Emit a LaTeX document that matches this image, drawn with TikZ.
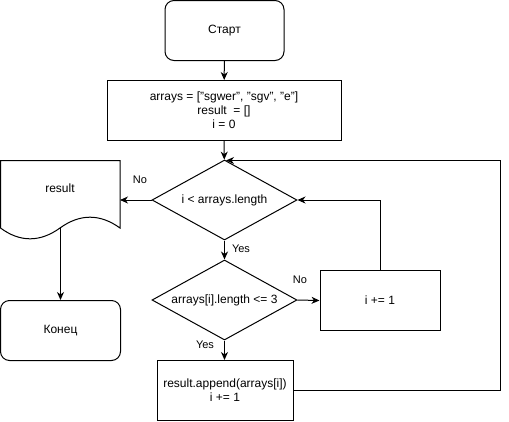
\documentclass[tikz,border=0pt]{standalone}
\usepackage{fontspec}
\setmainfont{Liberation Sans}
\usetikzlibrary{shapes.geometric,arrows.meta}
\begin{document}
\begin{tikzpicture}[x=1pt,y=-1pt,
  every node/.style={font=\fontsize{12}{14}\selectfont, text=black},
  term/.style={draw, line width=1pt, rounded corners=9pt, minimum width=119pt, minimum height=60pt, inner sep=0pt},
  proc/.style={draw, line width=1pt, minimum height=60pt, inner sep=0pt, align=center},
  dec/.style={draw, line width=1pt, diamond, shape aspect=1.8125, minimum width=145pt, minimum height=80pt, inner sep=0pt},
  arr/.style={line width=1pt, -{Stealth[length=8pt,width=7pt,inset=2.5pt]}},
  lbl/.style={font=\fontsize{11}{13}\selectfont, inner sep=0pt}]
\useasboundingbox (0,0) rectangle (509,421);
\node[term] (start) at (224.5,30.5) {Старт};
\node[proc, minimum width=234pt] (init) at (224,110.5) {arrays = ["sgwer", "sgv", "e"]\\result\ \ = []\\i = 0};
\node[dec] (d1) at (224.5,200) {i < arrays.length};
\node[dec] (d2) at (224.5,300) {arrays[i].length <= 3};
\node[proc, minimum width=120pt] (inc) at (380,300.5) {i += 1};
\node[proc, minimum width=136pt] (app) at (225,390.5) {result.append(arrays[i])\\i += 1};
\node[term, minimum width=120pt] (fin) at (60.5,330.5) {Конец};
% document shape
\draw[line width=1pt] (0.5,160.5) -- (120,160.5) -- (120,228)
  .. controls (100,213.6) and (80,213.6) .. (60,228)
  .. controls (40,242.4) and (20,242.4) .. (0.5,228) -- cycle;
\node (res) at (60,188) {result};
\coordinate (docb) at (60.5,228);
% connectors
\draw[arr] (start) -- (init);
\draw[arr] (init) -- (d1);
\draw[arr] (d1.west) -- (120,200);
\node[lbl] (no1) at (140,180) {No};
\draw[arr] (docb) -- (fin.north);
\draw[arr] (d1.south) -- (d2.north);
\node[lbl] (yes1) at (241,249) {Yes};
\draw[arr] (d2.east) -- (inc.west);
\node[lbl] (no2) at (300,280) {No};
\draw[arr] (inc.north) |- (d1.east);
\draw[arr] (d2.south) -- (d2.south |- app.north);
\node[lbl] (yes2) at (205,345) {Yes};
\draw[arr] (app.east) -- (500.5,390.5) -- (500.5,160.5) -- (226,160.5);
\end{tikzpicture}
\end{document}
